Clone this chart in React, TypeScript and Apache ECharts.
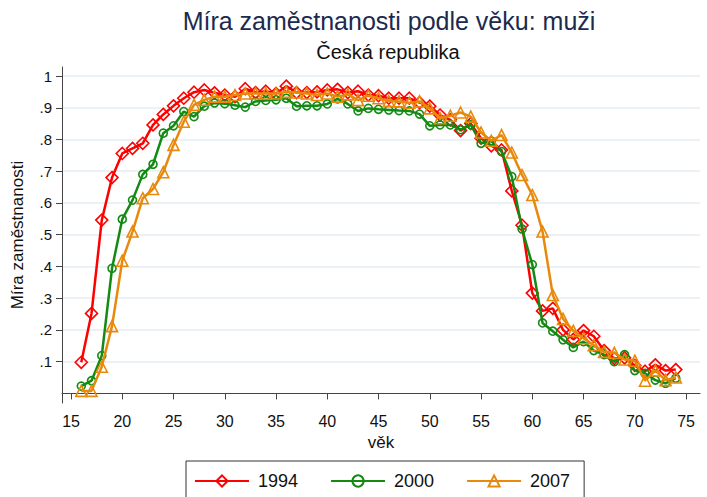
import React, { useEffect, useRef } from "react";
import * as echarts from "echarts";

const ages = [16, 17, 18, 19, 20, 21, 22, 23, 24, 25, 26, 27, 28, 29, 30, 31, 32, 33, 34, 35, 36, 37, 38, 39, 40, 41, 42, 43, 44, 45, 46, 47, 48, 49, 50, 51, 52, 53, 54, 55, 56, 57, 58, 59, 60, 61, 62, 63, 64, 65, 66, 67, 68, 69, 70, 71, 72, 73, 74];

const rate1994 = [0.098, 0.252, 0.546, 0.68, 0.756, 0.772, 0.788, 0.846, 0.879, 0.906, 0.93, 0.949, 0.956, 0.947, 0.94, 0.935, 0.96, 0.948, 0.952, 0.945, 0.968, 0.948, 0.948, 0.95, 0.956, 0.958, 0.948, 0.952, 0.94, 0.938, 0.93, 0.93, 0.93, 0.916, 0.905, 0.877, 0.862, 0.828, 0.85, 0.804, 0.78, 0.767, 0.638, 0.53, 0.316, 0.26, 0.268, 0.2, 0.17, 0.198, 0.18, 0.135, 0.11, 0.112, 0.088, 0.07, 0.09, 0.072, 0.075];

const rate2000 = [0.023, 0.04, 0.119, 0.394, 0.549, 0.609, 0.69, 0.722, 0.82, 0.843, 0.888, 0.872, 0.905, 0.915, 0.913, 0.908, 0.902, 0.92, 0.923, 0.925, 0.93, 0.905, 0.906, 0.906, 0.912, 0.928, 0.912, 0.89, 0.898, 0.895, 0.893, 0.891, 0.89, 0.88, 0.843, 0.846, 0.846, 0.831, 0.846, 0.788, 0.795, 0.762, 0.683, 0.518, 0.406, 0.222, 0.196, 0.169, 0.145, 0.163, 0.135, 0.122, 0.1, 0.122, 0.072, 0.063, 0.042, 0.032, 0.048];

const rate2007 = [0.008, 0.008, 0.084, 0.212, 0.418, 0.51, 0.615, 0.644, 0.697, 0.783, 0.856, 0.909, 0.925, 0.935, 0.935, 0.94, 0.945, 0.945, 0.945, 0.945, 0.95, 0.948, 0.945, 0.94, 0.945, 0.935, 0.942, 0.924, 0.938, 0.93, 0.921, 0.92, 0.916, 0.92, 0.898, 0.867, 0.875, 0.885, 0.872, 0.822, 0.796, 0.814, 0.759, 0.688, 0.625, 0.51, 0.31, 0.235, 0.197, 0.174, 0.152, 0.131, 0.128, 0.107, 0.103, 0.04, 0.072, 0.042, 0.05];

const xTicks = [15, 20, 25, 30, 35, 40, 45, 50, 55, 60, 65, 70, 75];
const yTicks = [0.1, 0.2, 0.3, 0.4, 0.5, 0.6, 0.7, 0.8, 0.9, 1];

const seriesNames = ["1994", "2000", "2007"];
const seriesColors = ["#ff0000", "#138a13", "#e8890c"];
const seriesSymbols = ["diamond", "circle", "triangle"];
const seriesSizes = [12, 8, 11];

const FONT = "'Liberation Sans', Arial, sans-serif";

export default function App() {
  const ref = useRef<HTMLDivElement>(null);

  useEffect(() => {
    document.body.style.margin = "0";
    if (!ref.current) return;
    const chart = echarts.init(ref.current, undefined, { renderer: "svg" });
    const allData = [rate1994, rate2000, rate2007];
    const option: any = {
      animation: false,
      backgroundColor: "#ffffff",
      textStyle: { fontFamily: FONT },
      title: [
        {
          text: "Míra zaměstnanosti podle věku: muži",
          left: 384,
          top: 3,
          textAlign: "center",
          textStyle: { fontSize: 25, fontWeight: "normal", color: "#1c2a4e", fontFamily: FONT },
        },
        {
          text: "Česká republika",
          left: 383,
          top: 37,
          textAlign: "center",
          textStyle: { fontSize: 20, fontWeight: "normal", color: "#111", fontFamily: FONT },
        },
      ],
      legend: {
        left: 186,
        top: 461,
        width: 396,
        data: seriesNames,
        itemWidth: 54,
        itemHeight: 14,
        itemGap: 32,
        padding: [11, 14, 11, 8],
        borderColor: "#333",
        borderWidth: 1,
        borderRadius: 0,
        textStyle: { fontSize: 18, color: "#111", fontFamily: FONT, padding: [0, 0, 0, 4] },
      },
      grid: { left: 62, right: 7, top: 67, bottom: 94, containLabel: false },
      xAxis: {
        type: "value",
        min: 14.12,
        max: 76.36,
        name: "věk",
        nameLocation: "middle",
        nameGap: 30,
        nameTextStyle: { fontSize: 17, color: "#111", fontFamily: FONT },
        axisLine: { show: true, lineStyle: { color: "#444", width: 1 } },
        axisTick: { show: true, length: 6, customValues: xTicks, lineStyle: { color: "#444" } },
        axisLabel: { customValues: xTicks, fontSize: 16, color: "#111", margin: 10, fontFamily: FONT },
        splitLine: { show: false },
      },
      yAxis: {
        type: "value",
        min: -0.0302,
        max: 1.0284,
        name: "Míra zaměstnanosti",
        nameLocation: "middle",
        nameGap: 36,
        nameRotate: 90,
        nameTextStyle: { fontSize: 17, color: "#111", fontFamily: FONT },
        axisLine: { show: true, lineStyle: { color: "#444", width: 1 } },
        axisTick: { show: true, length: 6, customValues: yTicks, lineStyle: { color: "#444" } },
        axisLabel: {
          customValues: yTicks,
          fontSize: 15,
          color: "#111",
          margin: 10,
          fontFamily: FONT,
          formatter: (v: number) => (v >= 0.999 ? "1" : "." + Math.round(v * 10)),
        },
        splitLine: { show: true, lineStyle: { color: "#e6edf2", width: 1.6 } },
      },
      series: seriesNames.map((name, i) => ({
        name,
        type: "line",
        data: ages.map((a, j) => [a, allData[i][j]]),
        symbol: seriesSymbols[i],
        symbolSize: seriesSizes[i],
        showAllSymbol: true,
        lineStyle: { color: seriesColors[i], width: 2.5 },
        itemStyle: { color: "rgba(255,255,255,0)", borderColor: seriesColors[i], borderWidth: 1.6 },
        emphasis: { disabled: true },
        z: 2 + i,
      })),
    };
    chart.setOption(option);
    return () => chart.dispose();
  }, []);

  return <div ref={ref} style={{ width: 707, height: 497 }} />;
}
